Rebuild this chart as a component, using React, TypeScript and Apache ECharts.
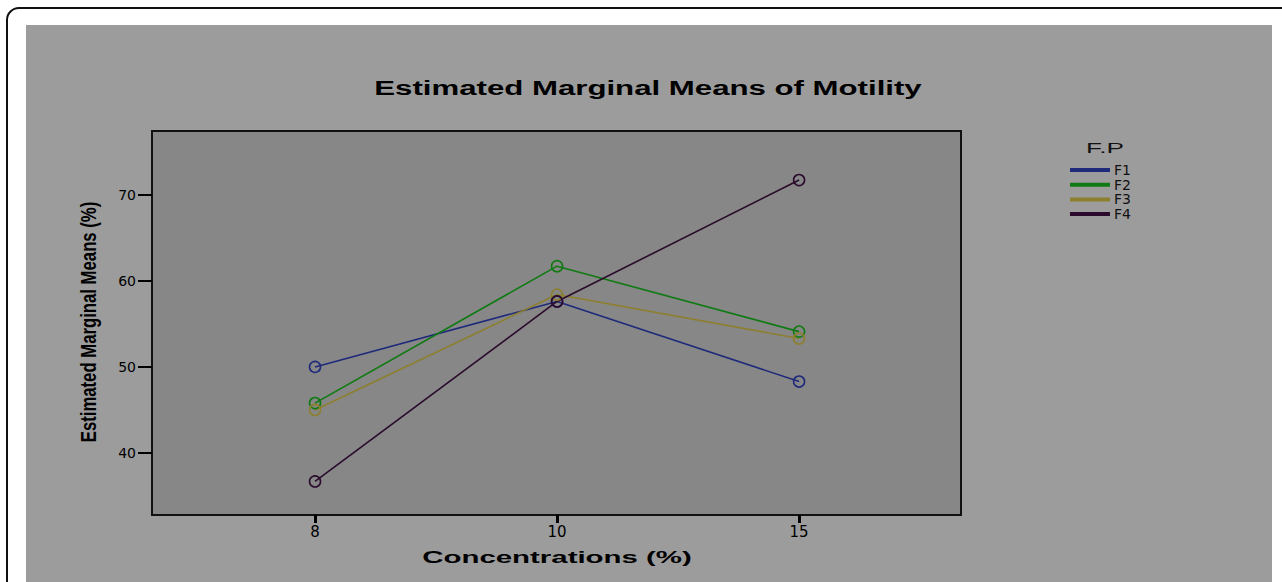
import React, { useEffect, useRef } from "react";
import * as echarts from "echarts";

const concentrations = ["8", "10", "15"];
const seriesNames = ["F1", "F2", "F3", "F4"];
const f1 = [50.0, 57.6, 48.3];
const f2 = [45.8, 61.7, 54.1];
const f3 = [45.0, 58.4, 53.3];
const f4 = [36.7, 57.6, 71.7];
const yTicks = [40, 50, 60, 70];
const colors = ["#1f2a7a", "#0f7a12", "#8c7f2e", "#2a0b2c"];

export default function App() {
  const ref = useRef<HTMLDivElement>(null);
  useEffect(() => {
    if (!ref.current) return;
    const chart = echarts.init(ref.current, null, { renderer: "svg" });
    const values = [f1, f2, f3, f4];
    const idx = concentrations.map((_, i) => i);
    const font = "'Liberation Sans', Arial, sans-serif";
    chart.setOption({
      animation: false,
      backgroundColor: "#ffffff",
      graphic: [
        {
          type: "rect",
          z: -20,
          shape: { x: 7, y: 8, width: 1320, height: 620, r: 12 },
          style: { fill: "#ffffff", stroke: "#111", lineWidth: 2 },
        },
        {
          type: "rect",
          z: -19,
          shape: { x: 26, y: 25, width: 1246, height: 600 },
          style: { fill: "#9c9c9c" },
        },
        {
          type: "text",
          z: 10,
          x: 648,
          y: 88,
          scaleX: 1.56,
          style: {
            text: "Estimated Marginal Means of Motility",
            font: `bold 20px ${font}`,
            fill: "#000",
            align: "center",
            verticalAlign: "middle",
          },
        },
        {
          type: "text",
          z: 10,
          x: 557,
          y: 557,
          scaleX: 1.73,
          style: {
            text: "Concentrations (%)",
            font: `bold 17px ${font}`,
            fill: "#000",
            align: "center",
            verticalAlign: "middle",
          },
        },
        {
          type: "text",
          z: 10,
          x: 88,
          y: 322,
          rotation: Math.PI / 2,
          scaleX: 0.88,
          scaleY: 1.2,
          style: {
            text: "Estimated Marginal Means (%)",
            font: `bold 19px ${font}`,
            fill: "#000",
            align: "center",
            verticalAlign: "middle",
          },
        },
        {
          type: "text",
          z: 10,
          x: 1105,
          y: 148,
          scaleX: 1.75,
          style: {
            text: "F.P",
            font: `15px ${font}`,
            fill: "#111",
            align: "center",
            verticalAlign: "middle",
          },
        },
      ],
      legend: {
        orient: "vertical",
        left: 1070,
        top: 163,
        padding: 0,
        itemWidth: 38,
        itemHeight: 2,
        itemGap: 0.7,
        data: seriesNames.map((n, s) => ({ name: n, icon: "rect", itemStyle: { color: colors[s] } })),
        textStyle: {
          fontSize: 14,
          fontFamily: "'DejaVu Sans', sans-serif",
          color: "#111",
        },
      },
      grid: {
        left: 152,
        top: 131,
        width: 809,
        height: 384,
        show: true,
        backgroundColor: "#878787",
        borderColor: "#111",
        borderWidth: 2,
      },
      xAxis: {
        type: "value",
        min: -0.6736,
        max: 2.669,
        splitLine: { show: false },
        axisLine: { show: false, onZero: false },
        axisTick: { show: true, customValues: idx, length: 8, lineStyle: { color: "#000", width: 3 } },
        axisLabel: {
          customValues: idx,
          formatter: (v: number) => concentrations[Math.round(v)] ?? "",
          fontSize: 15,
          fontFamily: "'DejaVu Sans', sans-serif",
          color: "#000",
          margin: 9,
        },
      },
      yAxis: {
        type: "value",
        min: 32.8,
        max: 77.4,
        splitLine: { show: false },
        axisLine: { show: false, onZero: false },
        axisTick: { show: true, customValues: yTicks, length: 14, lineStyle: { color: "#000", width: 2 } },
        axisLabel: {
          customValues: yTicks,
          fontSize: 14,
          fontFamily: "'DejaVu Sans', sans-serif",
          color: "#000",
          margin: 16,
        },
      },
      series: seriesNames.map((name, s) => ({
        name,
        type: "line",
        data: values[s].map((v, i) => [idx[i], v]),
        symbol: "circle",
        symbolSize: 11,
        color: colors[s],
        lineStyle: { color: colors[s], width: 1.6 },
        itemStyle: { color: "rgba(0,0,0,0)", borderColor: colors[s], borderWidth: 1.6 },
      })),
    });
    return () => chart.dispose();
  }, []);
  return (
    <div
      ref={ref}
      style={{ position: "absolute", left: 0, top: 0, width: 1282, height: 582 }}
    />
  );
}
